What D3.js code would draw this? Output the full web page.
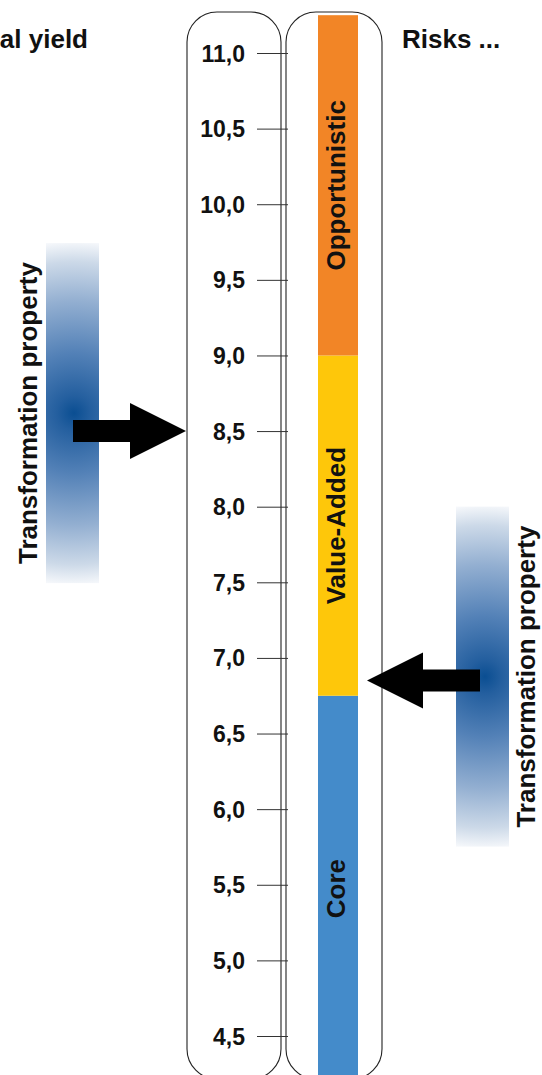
<!DOCTYPE html>
<html>
<head>
<meta charset="utf-8">
<script src="https://cdn.jsdelivr.net/npm/d3@7"></script>
<style>
  html, body { margin: 0; padding: 0; background: #fff; overflow: hidden; }
  svg { display: block; }
  text { font-family: "Liberation Sans", Arial, Helvetica, sans-serif; font-weight: bold; fill: #111; }
</style>
</head>
<body>
<svg id="chart" width="542" height="1075"></svg>
<script>
// Yield scale ticks (%)
const tickValues = [11.0, 10.5, 10.0, 9.5, 9.0, 8.5, 8.0, 7.5, 7.0, 6.5, 6.0, 5.5, 5.0, 4.5];
const tickLabels = ["11,0", "10,5", "10,0", "9,5", "9,0", "8,5", "8,0", "7,5", "7,0", "6,5", "6,0", "5,5", "5,0", "4,5"];

// Risk categories as yield bands
const riskNames = ["Core", "Value-Added", "Opportunistic"];
const riskFrom  = [4.2, 6.75, 9.0];
const riskTo    = [6.75, 9.0, 11.25];

// Transformation property markers: side and yield they point at
const markerSides  = ["left", "right"];
const markerYields = [8.5, 6.85];
const markerLabel  = "Transformation property";

const headerLeft  = "al yield";
const headerRight = "Risks ...";

const riskColors = { "Core": "#448bca", "Value-Added": "#fec70a", "Opportunistic": "#f28526" };

const svg = d3.select("#chart");

const y = d3.scaleLinear().domain([4.5, 11.0]).range([1036, 53]);

// Two rounded frames: scale frame and risk frame
const frameTop = 12, frameBottom = 1079, frameR = 30;
const frames = [{ x0: 187, x1: 281 }, { x0: 286, x1: 382 }];
svg.selectAll("rect.frame").data(frames).join("rect")
  .attr("class", "frame")
  .attr("x", d => d.x0).attr("y", frameTop)
  .attr("width", d => d.x1 - d.x0).attr("height", frameBottom - frameTop)
  .attr("rx", frameR).attr("ry", frameR)
  .attr("fill", "none").attr("stroke", "#222").attr("stroke-width", 1.1);

// Risk bands
const barX = 318, barW = 40;
const bands = riskNames.map((n, i) => ({ name: n, from: riskFrom[i], to: riskTo[i] }));
svg.selectAll("rect.band").data(bands).join("rect")
  .attr("class", "band")
  .attr("x", barX).attr("width", barW)
  .attr("y", d => y(d.to)).attr("height", d => y(d.from) - y(d.to))
  .attr("fill", d => riskColors[d.name]);

svg.selectAll("text.band").data(bands).join("text")
  .attr("class", "band")
  .attr("transform", d => `translate(${barX + barW / 2 - 2},${(y(d.from) + y(d.to)) / 2}) rotate(-90)`)
  .attr("text-anchor", "middle").attr("dy", "0.35em")
  .style("font-size", "26px")
  .text(d => d.name);

// Yield axis
const axis = d3.axisRight(y)
  .tickValues(tickValues)
  .tickSize(31)
  .tickFormat((d, i) => tickLabels[i]);
const axisG = svg.append("g").attr("transform", "translate(257,0)").call(axis);
axisG.select(".domain").remove();
axisG.selectAll(".tick line").attr("stroke", "#333").attr("stroke-width", 1);
axisG.selectAll(".tick text")
  .attr("x", -12).attr("dy", "0.35em")
  .attr("text-anchor", "end")
  .attr("fill", "#111")
  .style("font-family", "\"Liberation Sans\", Arial, Helvetica, sans-serif")
  .style("font-weight", "bold")
  .style("font-size", "23px");

// Headers
svg.append("text").attr("x", 88).attr("y", 48).attr("text-anchor", "end")
  .style("font-size", "26px").text(headerLeft);
svg.append("text").attr("x", 402).attr("y", 48)
  .style("font-size", "26px").text(headerRight);

// Markers: glow strip, rotated label and arrow
const defs = svg.append("defs");
const markers = markerSides.map((s, i) => {
  const tipY = y(markerYields[i]);
  return s === "left"
    ? { side: s, i, tipX: 186, tipY, glowX: 46, glowW: 53, glowCx: 74, glowCy: tipY - 18, labelX: 28 }
    : { side: s, i, tipX: 367, tipY, glowX: 456, glowW: 53, glowCx: 485, glowCy: tipY - 4, labelX: 526 };
});

markers.forEach(m => {
  const g = defs.append("radialGradient")
    .attr("id", "glow" + m.i)
    .attr("gradientUnits", "userSpaceOnUse")
    .attr("cx", m.glowCx).attr("cy", m.glowCy).attr("r", 172)
    .attr("fx", m.glowCx).attr("fy", m.glowCy);
  [[0, "#0a4e92"], [0.1, "#245f9f"], [0.35, "#5381b7"], [0.65, "#93afd1"], [0.88, "#ccd9e8"], [1, "#f6f8fb"]]
    .forEach(([o, c]) => g.append("stop").attr("offset", o).attr("stop-color", c));
});

svg.selectAll("rect.glow").data(markers).join("rect")
  .attr("class", "glow")
  .attr("x", d => d.glowX).attr("width", d => d.glowW)
  .attr("y", d => d.glowCy - 170).attr("height", 340)
  .attr("fill", d => `url(#glow${d.i})`);

svg.selectAll("text.marker").data(markers).join("text")
  .attr("class", "marker")
  .attr("transform", d => `translate(${d.labelX},${d.glowCy}) rotate(-90)`)
  .attr("text-anchor", "middle").attr("dy", "0.35em")
  .style("font-size", "26px")
  .text(markerLabel);

function arrowPath(d) {
  const dir = d.side === "left" ? -1 : 1; // direction from tip back to tail
  const headL = 56, headH = 28, shaftL = 57, shaftH = 11;
  const p = d3.path();
  p.moveTo(d.tipX, d.tipY);
  p.lineTo(d.tipX + dir * headL, d.tipY - headH);
  p.lineTo(d.tipX + dir * headL, d.tipY - shaftH);
  p.lineTo(d.tipX + dir * (headL + shaftL), d.tipY - shaftH);
  p.lineTo(d.tipX + dir * (headL + shaftL), d.tipY + shaftH);
  p.lineTo(d.tipX + dir * headL, d.tipY + shaftH);
  p.lineTo(d.tipX + dir * headL, d.tipY + headH);
  p.closePath();
  return p.toString();
}
svg.selectAll("path.arrow").data(markers).join("path")
  .attr("class", "arrow")
  .attr("d", arrowPath)
  .attr("fill", "#000");
</script>
</body>
</html>
